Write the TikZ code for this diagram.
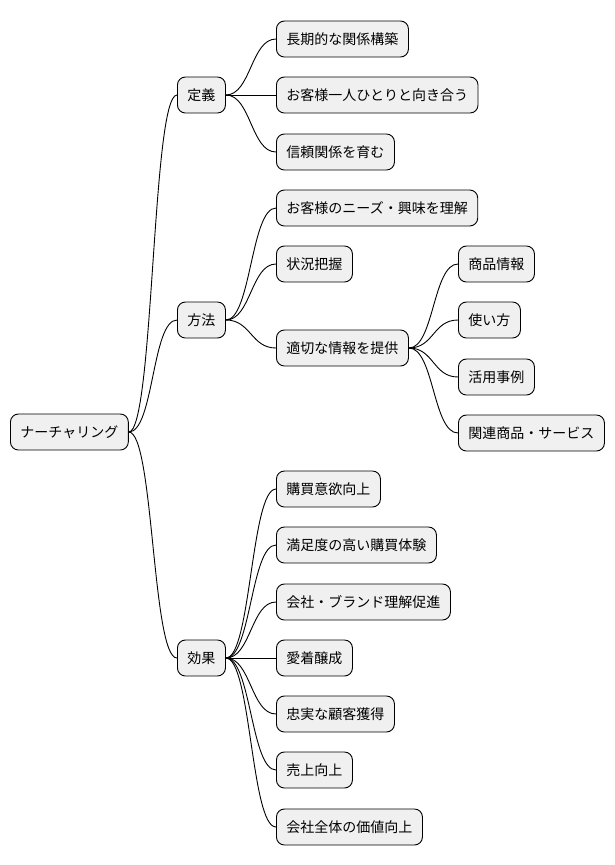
\documentclass[tikz,border=0pt]{standalone}
\usepackage{fontspec}
\setmainfont{Noto Sans CJK JP}
\usetikzlibrary{calc}
\tikzstyle{line} = [draw, line width=0.9pt]
\tikzstyle{topic} = [rectangle, rounded corners=8pt, draw=black, line width=0.9pt,
  fill=black!6, minimum height=36pt, inner xsep=10pt, anchor=west,
  font={\fontsize{14}{16}\selectfont}]
\begin{document}
\begin{tikzpicture}[x=1pt, y=-1pt]
      \useasboundingbox (0,0) rectangle (614,865);
      \node [topic] (root) at (10,432) {ナーチャリング};
      % first level
      \node [topic] (teigi) at (177,95) {定義};
      \node [topic] (hoho) at (177,320) {方法};
      \node [topic] (koka) at (177,658) {効果};
      % definition
      \node [topic] (kankei) at (276,39) {長期的な関係構築};
      \node [topic] (mukiau) at (276,95) {お客様一人ひとりと向き合う};
      \node [topic] (shinrai) at (276,152) {信頼関係を育む};
      % method
      \node [topic] (needs) at (276,208) {お客様のニーズ・興味を理解};
      \node [topic] (jokyo) at (276,264) {状況把握};
      \node [topic] (teikyo) at (276,348) {適切な情報を提供};
      \node [topic] (shohin) at (458,264) {商品情報};
      \node [topic] (tsukai) at (458,320) {使い方};
      \node [topic] (jirei) at (458,377) {活用事例};
      \node [topic] (kanren) at (458,433) {関連商品・サービス};
      % effect
      \node [topic] (iyoku) at (276,489) {購買意欲向上};
      \node [topic] (manzoku) at (276,545) {満足度の高い購買体験};
      \node [topic] (brand) at (276,602) {会社・ブランド理解促進};
      \node [topic] (aichaku) at (276,658) {愛着醸成};
      \node [topic] (chujitsu) at (276,714) {忠実な顧客獲得};
      \node [topic] (uriage) at (276,770) {売上向上};
      \node [topic] (kachi) at (276,827) {会社全体の価値向上};
      \foreach \a/\b in {root/teigi, root/hoho, root/koka,
          teigi/kankei, teigi/mukiau, teigi/shinrai,
          hoho/needs, hoho/jokyo, hoho/teikyo,
          teikyo/shohin, teikyo/tsukai, teikyo/jirei, teikyo/kanren,
          koka/iyoku, koka/manzoku, koka/brand, koka/aichaku,
          koka/chujitsu, koka/uriage, koka/kachi}
        \path [line] (\a.east) .. controls +(25,0) and +(-25,0) .. (\b.west);
    \end{tikzpicture}
\end{document}
